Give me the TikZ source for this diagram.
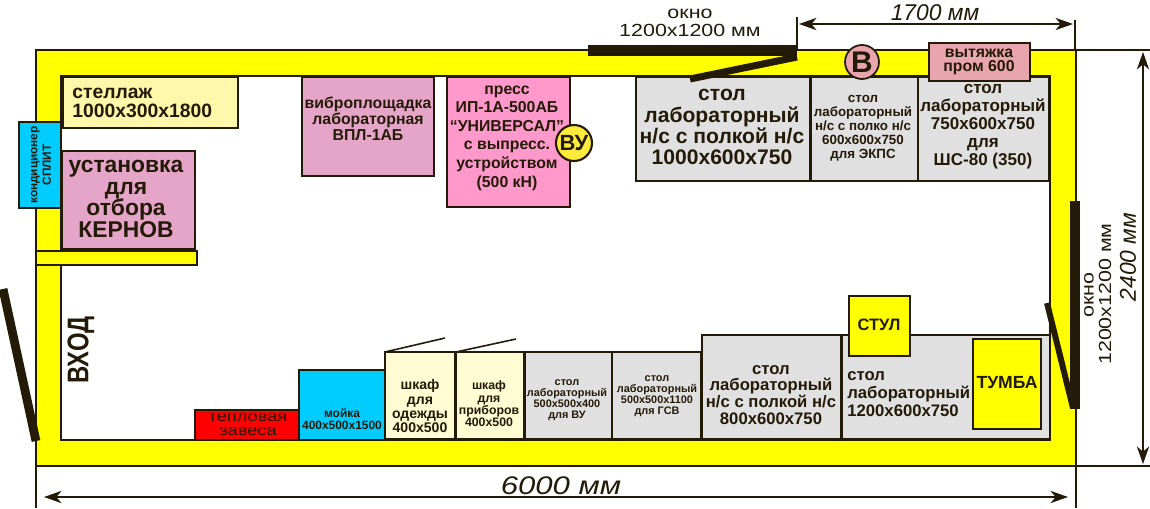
\documentclass[tikz,border=0pt]{standalone}
\usepackage{fontspec}
\setmainfont{Liberation Sans}
\newfontfamily\widefont[FakeStretch=1.22]{Liberation Sans}
\newfontfamily\narrowfont[FakeStretch=.8]{Liberation Sans}
\usetikzlibrary{arrows.meta,positioning}

\definecolor{ink}{HTML}{231A08}
\definecolor{wallyellow}{HTML}{FFFF00}
\definecolor{shelfcream}{HTML}{FFF8AA}
\definecolor{cupboard}{HTML}{FFFBD2}
\definecolor{splitblue}{HTML}{00CCFF}
\definecolor{mauve}{HTML}{E5A5C8}
\definecolor{pressrose}{HTML}{FF99CC}
\definecolor{tablegrey}{HTML}{E0E0E0}
\definecolor{hoodrose}{HTML}{E8A5AE}
\definecolor{markyellow}{HTML}{FFEB3B}

\tikzset{
  eqbox/.style={draw=ink, line width=1.4pt, inner sep=0pt, outer sep=0pt, anchor=north west},
  wh/.style 2 args={minimum width=#1*0.02cm, minimum height=#2*0.02cm},
  txt/.style 2 args={text=ink, align=center, inner sep=0pt, font=\fontsize{#1}{#2}\selectfont\bfseries},
  thin txt/.style 2 args={text=ink, align=center, inner sep=0pt, font=\fontsize{#1}{#2}\selectfont\widefont},
  dimline/.style={draw=ink, line width=0.7pt},
  dimarrow/.style={dimline, {Stealth[length=10pt,width=7pt,inset=3pt]}-{Stealth[length=10pt,width=7pt,inset=3pt]}},
  leaf/.style={draw=ink, line width=#1},
}

\begin{document}
\begin{tikzpicture}[x=0.02cm,y=-0.02cm]
\useasboundingbox (0,0) rectangle (1150,508);

% walls
\fill[wallyellow, even odd rule] (36,50) rectangle (1076,466) (61,76) rectangle (1050,440);
\draw[ink, line width=0.7pt] (36,50) rectangle (1076,466);
\draw[ink, line width=1.2pt] (61,76) rectangle (1050,440);
\node[eqbox, fill=wallyellow, wh={161}{14}] (partition) at (36,251) {};

% dimension points
\coordinate (topL) at (797,50);
\coordinate (topLup) at (797,17);
\coordinate (topR) at (1075,50);
\coordinate (topRup) at (1075,20);
\coordinate (dimTopL) at (799,24);
\coordinate (dimTopR) at (1073,24);
\coordinate (rightT) at (1076,50);
\coordinate (rightTout) at (1150,50);
\coordinate (rightB) at (1076,466);
\coordinate (rightBout) at (1150,466);
\coordinate (dimRightT) at (1143,52);
\coordinate (dimRightB) at (1143,464);
\coordinate (botL) at (36,466);
\coordinate (botLdown) at (36,508);
\coordinate (botR) at (1076,466);
\coordinate (botRdown) at (1076,508);
\coordinate (dimBotL) at (44,497);
\coordinate (dimBotR) at (1068,497);

\draw[dimline] (topL) -- (topLup);
\draw[dimline] (topR) -- (topRup);
\draw[dimline] (rightT) -- (rightTout);
\draw[dimline] (rightB) -- (rightBout);
\draw[dimline] (botL) -- (botLdown);
\draw[dimline] (botR) -- (botRdown);
\draw[dimarrow] (dimTopL) -- (dimTopR);
\draw[dimarrow] (dimRightT) -- (dimRightB);
\draw[dimarrow] (dimBotL) -- (dimBotR);

% top row
\node[eqbox, fill=shelfcream, wh={175}{51}] (shelf) at (63,77) {};
\node[txt={11}{10.8}, anchor=west, align=left] (shelftext) at (72,103) {стеллаж\\1000x300x1800};
\node[eqbox, fill=splitblue, line width=0.8pt, wh={42}{86}] (split) at (19,122) {};
\node[txt={6.7}{7.8}, rotate=90] (splittext) at (41,165) {кондиционер\\СПЛИТ};
\node[eqbox, fill=mauve, wh={133}{98}] (corer) at (62,151) {};
\node[txt={13}{12.4}] (corertext) at (126,199) {установка\\для\\отбора\\КЕРНОВ};
\node[eqbox, fill=mauve, wh={132}{99}] (vibro) at (302,77) {};
\node[txt={9}{9}] (vibrotext) at (368,119) {виброплощадка\\лабораторная\\ВПЛ-1АБ};
\node[eqbox, fill=pressrose, wh={123}{130}] (press) at (447,77) {};
\node[txt={9}{10.6}] (presstext) at (507,138) {пресс\\ИП-1А-500АБ\\“УНИВЕРСАЛ”\\с выпресс.\\устройством\\(500 кН)};
\node[circle, draw=ink, line width=1.2pt, fill=markyellow, minimum size=36*0.02cm, inner sep=0pt, text=ink, font=\fontsize{12.5}{12.5}\selectfont\bfseries] (markvu) at (574,143) {ВУ};
\node[eqbox, fill=tablegrey, wh={174}{104}] (tableA) at (636,77) {};
\node[txt={12}{12}] (tableAtext) at (722,127) {стол\\лабораторный\\н/с с полкой н/с\\1000x600x750};
\node[eqbox, fill=tablegrey, wh={107}{104}] (tableB) at (811,77) {};
\node[txt={7.6}{8}] (tableBtext) at (863,128) {стол\\лабораторный\\н/с с полко н/с\\600x600x750\\для ЭКПС};
\node[eqbox, fill=tablegrey, wh={131}{104}] (tableC) at (918,77) {};
\node[txt={9.7}{10.2}] (tableCtext) at (983,127) {стол\\лабораторный\\750x600x750\\для\\ШС-80 (350)};
\node[circle, draw=ink, line width=1pt, fill=hoodrose, minimum size=34*0.02cm, inner sep=0pt, text=ink, font=\fontsize{17}{17}\selectfont\bfseries] (markb) at (862,62) {В};
\node[eqbox, line width=0.9pt, fill=hoodrose, wh={101}{38}] (hood) at (929,43) {};
\node[txt={9}{8}] (hoodtext) at (979,62) {вытяжка\\пром 600};

% top window
\coordinate (winTopL) at (588,50.5);
\coordinate (winTopR) at (797,50.5);
\coordinate (winTopHinge) at (797,57);
\coordinate (winTopLeaf) at (690,79);
\draw[leaf=6.2pt] (winTopL) -- (winTopR);
\draw[leaf=4pt] (winTopHinge) -- (winTopLeaf);
\node[thin txt={10}{10}] (wintopa) at (690,14) {окно};
\node[thin txt={10}{10}] (wintopb) at (690,30) {1200x1200 мм};
\node[text=ink, inner sep=0pt, font=\fontsize{13}{13}\selectfont\itshape] (dimtop) at (935,13) {1700 мм};

% right window
\coordinate (winRightT) at (1075,201);
\coordinate (winRightB) at (1075,409);
\coordinate (winRightHinge) at (1073,408);
\coordinate (winRightLeaf) at (1047,303);
\draw[leaf=6.2pt] (winRightT) -- (winRightB);
\draw[leaf=3.4pt] (winRightHinge) -- (winRightLeaf);
\node[thin txt={10}{10}, rotate=90] (winrighta) at (1089,295) {окно};
\node[thin txt={10}{10}, rotate=90] (winrightb) at (1105,294) {1200x1200 мм};
\node[text=ink, inner sep=0pt, rotate=90, font=\fontsize{13}{13}\selectfont\itshape] (dimright) at (1128,257) {2400 мм};

% entrance
\coordinate (doorT) at (3,289);
\coordinate (doorB) at (36,441);
\draw[leaf=5pt] (doorT) -- (doorB);
\node[text=ink, inner sep=0pt, rotate=90, font=\fontsize{17}{17}\selectfont\narrowfont\bfseries] (entry) at (81,350) {ВХОД};

% bottom row
\node[eqbox, fill=red, wh={104}{30}] (curtain) at (195,410) {};
\node[text=ink, align=center, inner sep=0pt, font=\fontsize{8.5}{8}\selectfont\widefont] (curtaintext) at (248,425) {тепловая\\завеса};
\node[eqbox, fill=splitblue, wh={86}{70}] (sink) at (299,370) {};
\node[txt={6.8}{7}] (sinktext) at (342,419) {мойка\\400x500x1500};
\node[eqbox, fill=cupboard, wh={70}{87}] (wardrobe) at (385,352) {};
\node[txt={8}{8}] (wardrobetext) at (420,406) {шкаф\\для\\одежды\\400x500};
\node[eqbox, fill=cupboard, wh={68}{87}] (cabinet) at (456,352) {};
\node[txt={7}{7}] (cabinettext) at (489,404) {шкаф\\для\\приборов\\400x500};
\node[eqbox, fill=tablegrey, wh={87}{87}] (tableD) at (525,352) {};
\node[txt={6.2}{6.3}] (tableDtext) at (567,400) {стол\\лабораторный\\500x500x400\\для ВУ};
\node[eqbox, fill=tablegrey, wh={89}{87}] (tableE) at (612,352) {};
\node[txt={6.2}{6.3}] (tableEtext) at (657,396) {стол\\лабораторный\\500x500x1100\\для ГСВ};
\node[eqbox, fill=tablegrey, wh={139}{104}] (tableF) at (702,335) {};
\node[txt={9.5}{9.6}] (tableFtext) at (771,395) {стол\\лабораторный\\н/с с полкой н/с\\800x600x750};
\node[eqbox, fill=tablegrey, wh={208}{104}] (tableG) at (842,335) {};
\node[txt={9.5}{10.3}, anchor=west, align=left] (tableGtext) at (847,394) {стол\\лабораторный\\1200x600x750};
\node[eqbox, fill=wallyellow, wh={61}{60}] (chair) at (849,296) {};
\node[txt={9.4}{9.4}] (chairtext) at (879,325) {СТУЛ};
\node[eqbox, fill=wallyellow, wh={68}{90}] (pedestal) at (973,339) {};
\node[txt={10}{10}] (pedestaltext) at (1007,383) {ТУМБА};

% cupboard doors
\coordinate (wardrobeDoor) at (445,338);
\coordinate (cabinetDoor) at (516,339);
\draw[leaf=0.9pt] (wardrobe.north west) -- (wardrobeDoor);
\draw[leaf=0.9pt] (cabinet.north west) -- (cabinetDoor);

\node[text=ink, inner sep=0pt, font=\fontsize{14.5}{14.5}\selectfont\widefont\itshape] (dimbot) at (561,486) {6000 мм};
\end{tikzpicture}
\end{document}
